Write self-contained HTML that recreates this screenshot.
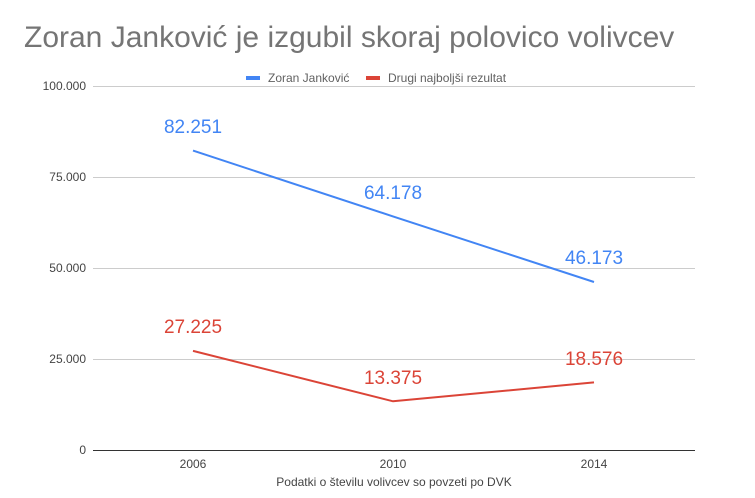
<!DOCTYPE html>
<html><head><meta charset="utf-8"><style>
body{margin:0;background:#fff;}
svg{display:block;font-family:"Liberation Sans",sans-serif;}
</style></head><body>
<svg width="755" height="498" viewBox="0 0 755 498">
<rect width="755" height="498" fill="#fff"/>
<text x="24" y="47" font-size="30" fill="#757575">Zoran Janković je izgubil skoraj polovico volivcev</text>
<rect x="246" y="76" width="14" height="4" fill="#4285f4"/>
<text x="268" y="82" font-size="12" fill="#616161">Zoran Janković</text>
<rect x="366" y="76" width="14" height="4" fill="#db4437"/>
<text x="388" y="82" font-size="12" fill="#616161">Drugi najboljši rezultat</text>
<g stroke="#ccc" stroke-width="1">
<line x1="93" y1="86.5" x2="695" y2="86.5"/>
<line x1="93" y1="177.5" x2="695" y2="177.5"/>
<line x1="93" y1="268.5" x2="695" y2="268.5"/>
<line x1="93" y1="359.5" x2="695" y2="359.5"/>
</g>
<line x1="93" y1="450.5" x2="695" y2="450.5" stroke="#333" stroke-width="1"/>
<g font-size="12" fill="#444" text-anchor="end">
<text x="86" y="90">100.000</text>
<text x="86" y="181">75.000</text>
<text x="86" y="272">50.000</text>
<text x="86" y="363">25.000</text>
<text x="86" y="454">0</text>
</g>
<g font-size="12" fill="#444" text-anchor="middle">
<text x="193" y="468">2006</text>
<text x="393" y="468">2010</text>
<text x="594" y="468">2014</text>
<text x="394" y="486">Podatki o številu volivcev so povzeti po DVK</text>
</g>
<polyline points="193,150.6 393,216.4 594,282" fill="none" stroke="#4285f4" stroke-width="2"/>
<polyline points="193,350.9 393,401.3 594,382.4" fill="none" stroke="#db4437" stroke-width="2"/>
<g font-size="19" text-anchor="middle">
<text x="193" y="133" fill="#4285f4">82.251</text>
<text x="393" y="199" fill="#4285f4">64.178</text>
<text x="594" y="264" fill="#4285f4">46.173</text>
<text x="193" y="333" fill="#db4437">27.225</text>
<text x="393" y="384" fill="#db4437">13.375</text>
<text x="594" y="365" fill="#db4437">18.576</text>
</g>
</svg>
</body></html>
